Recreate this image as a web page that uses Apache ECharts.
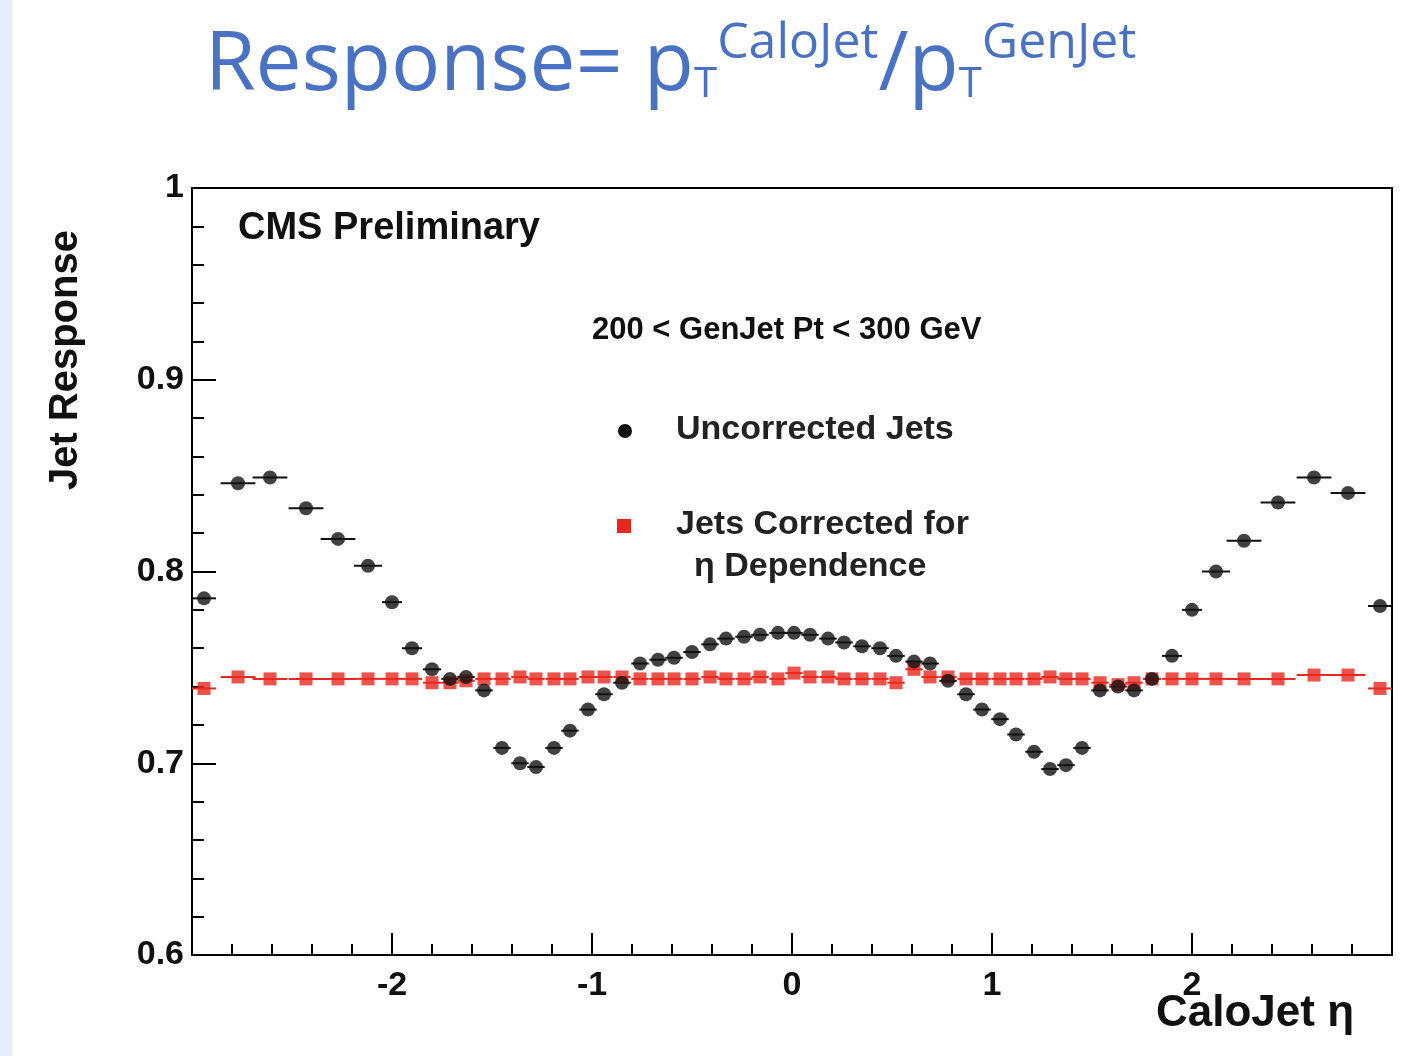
<!DOCTYPE html>
<html><head><meta charset="utf-8">
<script src="https://cdn.jsdelivr.net/npm/echarts@6/dist/echarts.min.js"></script>
<style>html,body{margin:0;background:#fff}#c{width:1412px;height:1056px}</style>
</head><body><div id="c"></div>
<script>
// eta bin centres
const etaBins = [-2.94,-2.77,-2.61,-2.43,-2.27,-2.12,-2.00,-1.90,-1.80,-1.71,-1.63,-1.54,-1.45,-1.36,-1.28,-1.19,-1.11,-1.02,-0.94,-0.85,-0.76,-0.67,-0.59,-0.50,-0.41,-0.33,-0.24,-0.16,-0.07,0.01,0.09,0.18,0.26,0.35,0.44,0.52,0.61,0.69,0.78,0.87,0.95,1.04,1.12,1.21,1.29,1.37,1.45,1.54,1.63,1.71,1.80,1.90,2.00,2.12,2.26,2.43,2.61,2.78,2.94]
const binHalf = [0.06,0.087,0.087,0.087,0.087,0.07,0.05,0.05,0.045,0.0435,0.0435,0.0435,0.0435,0.0435,0.0435,0.0435,0.0435,0.0435,0.0435,0.0435,0.0435,0.0435,0.0435,0.0435,0.0435,0.0435,0.0435,0.0435,0.0435,0.0435,0.0435,0.0435,0.0435,0.0435,0.0435,0.0435,0.0435,0.0435,0.0435,0.0435,0.0435,0.0435,0.0435,0.0435,0.0435,0.0435,0.0435,0.0435,0.0435,0.0435,0.045,0.05,0.05,0.07,0.087,0.087,0.087,0.087,0.06]
const uncorrected = [0.786,0.846,0.849,0.833,0.817,0.803,0.784,0.760,0.749,0.744,0.745,0.738,0.708,0.700,0.698,0.708,0.717,0.728,0.736,0.742,0.752,0.754,0.755,0.758,0.762,0.765,0.766,0.767,0.768,0.768,0.767,0.765,0.763,0.761,0.760,0.756,0.753,0.752,0.743,0.736,0.728,0.723,0.715,0.706,0.697,0.699,0.708,0.738,0.740,0.738,0.744,0.756,0.780,0.800,0.816,0.836,0.849,0.841,0.782]
const corrected = [0.739,0.745,0.744,0.744,0.744,0.744,0.744,0.744,0.742,0.742,0.743,0.744,0.744,0.745,0.744,0.744,0.744,0.745,0.745,0.745,0.744,0.744,0.744,0.744,0.745,0.744,0.744,0.745,0.744,0.747,0.745,0.745,0.744,0.744,0.744,0.742,0.749,0.745,0.745,0.744,0.744,0.744,0.744,0.744,0.745,0.744,0.744,0.742,0.741,0.742,0.744,0.744,0.744,0.744,0.744,0.744,0.746,0.746,0.739]
const xTicks = [-2,-1,0,1,2]
const yTicks = [0.6,0.7,0.8,0.9,1]

const bars = (vals) => etaBins.map((x,i)=>[x,vals[i],binHalf[i]])
const barSeries = (vals,color) => ({
  type:'custom', silent:true, data:bars(vals), z:2,
  renderItem:(p,api)=>{
    const a=api.coord([api.value(0)-api.value(2),api.value(1)])
    const b=api.coord([api.value(0)+api.value(2),api.value(1)])
    return {type:'line',shape:{x1:a[0],y1:a[1],x2:b[0],y2:b[1]},style:{stroke:color,lineWidth:2}}
  }
})
const font = 'Liberation Sans, Arial, sans-serif'
const tf = 'Open Sans, sans-serif'
const chart = echarts.init(document.getElementById('c'))
chart.setOption({
  animation:false,
  title:{text:'{m|Response= p}{s|T}{u|CaloJet}{m|/p}{s|T}{u|GenJet}',left:200,top:14,
    textStyle:{rich:{
      m:{fontSize:82,color:'#4a72c4',fontFamily:tf,fontWeight:500},
      s:{fontSize:42,color:'#4a72c4',fontFamily:tf,fontWeight:500,padding:[36,0,0,0]},
      u:{fontSize:50,color:'#4a72c4',fontFamily:tf,fontWeight:'normal',padding:[0,0,46,0]}}}},
  graphic:[
    {type:'rect',left:0,top:0,shape:{width:12,height:1056},style:{fill:'#e3eefa'}},
    {type:'text',left:238,top:210,style:{text:'CMS Preliminary',font:'bold 38px '+font,fill:'#111'}},
    {type:'text',left:592,top:315,style:{text:'200 < GenJet Pt < 300 GeV',font:'bold 31px '+font,fill:'#111'}},
    {type:'circle',shape:{cx:625,cy:431,r:7},style:{fill:'#111'}},
    {type:'text',left:676,top:413,style:{text:'Uncorrected Jets',font:'bold 34px '+font,fill:'#222'}},
    {type:'rect',shape:{x:617,y:519,width:14,height:14},style:{fill:'#e8281e'}},
    {type:'text',left:676,top:508,style:{text:'Jets Corrected for',font:'bold 34px '+font,fill:'#222'}},
    {type:'text',left:694,top:550,style:{text:'η Dependence',font:'bold 34px '+font,fill:'#222'}},
    {type:'text',left:46,top:230,rotation:Math.PI/2,style:{text:'Jet Response',font:'bold 40px '+font,fill:'#111'}},
    {type:'text',left:1156,top:992,style:{text:'CaloJet η',font:'bold 44px '+font,fill:'#111'}}
  ],
  grid:{left:192,top:188,right:20,bottom:101,show:true,borderColor:'#000',borderWidth:2},
  xAxis:{type:'value',min:-3,max:3,interval:1,
    axisLine:{show:false,onZero:false},splitLine:{show:false},
    axisTick:{inside:true,length:22,lineStyle:{color:'#000',width:2}},
    minorTick:{show:true,splitNumber:5,length:11,lineStyle:{color:'#000',width:2}},
    axisLabel:{fontSize:34,fontWeight:'bold',fontFamily:font,color:'#111',margin:14,
      formatter:v=>xTicks.includes(v)?String(v):''}},
  yAxis:{type:'value',min:0.6,max:1,interval:0.1,
    axisLine:{show:false,onZero:false},splitLine:{show:false},
    axisTick:{inside:true,length:24,lineStyle:{color:'#000',width:2}},
    minorTick:{show:true,splitNumber:5,length:12,lineStyle:{color:'#000',width:2}},
    axisLabel:{fontSize:34,fontWeight:'bold',fontFamily:font,color:'#111',margin:8,
      formatter:v=>{const t=yTicks.find(y=>Math.abs(y-v)<1e-6);return t===undefined?'':(t===1?'1':t.toFixed(1))}}},
  series:[
    barSeries(uncorrected,'#111'),
    barSeries(corrected,'#e8281e'),
    {type:'scatter',data:etaBins.map((x,i)=>[x,uncorrected[i]]),symbol:'circle',symbolSize:14,itemStyle:{color:'#111'},z:4},
    {type:'scatter',data:etaBins.map((x,i)=>[x,corrected[i]]),symbol:'rect',symbolSize:13,itemStyle:{color:'#e8281e'},z:3}
  ]
})
</script></body></html>
